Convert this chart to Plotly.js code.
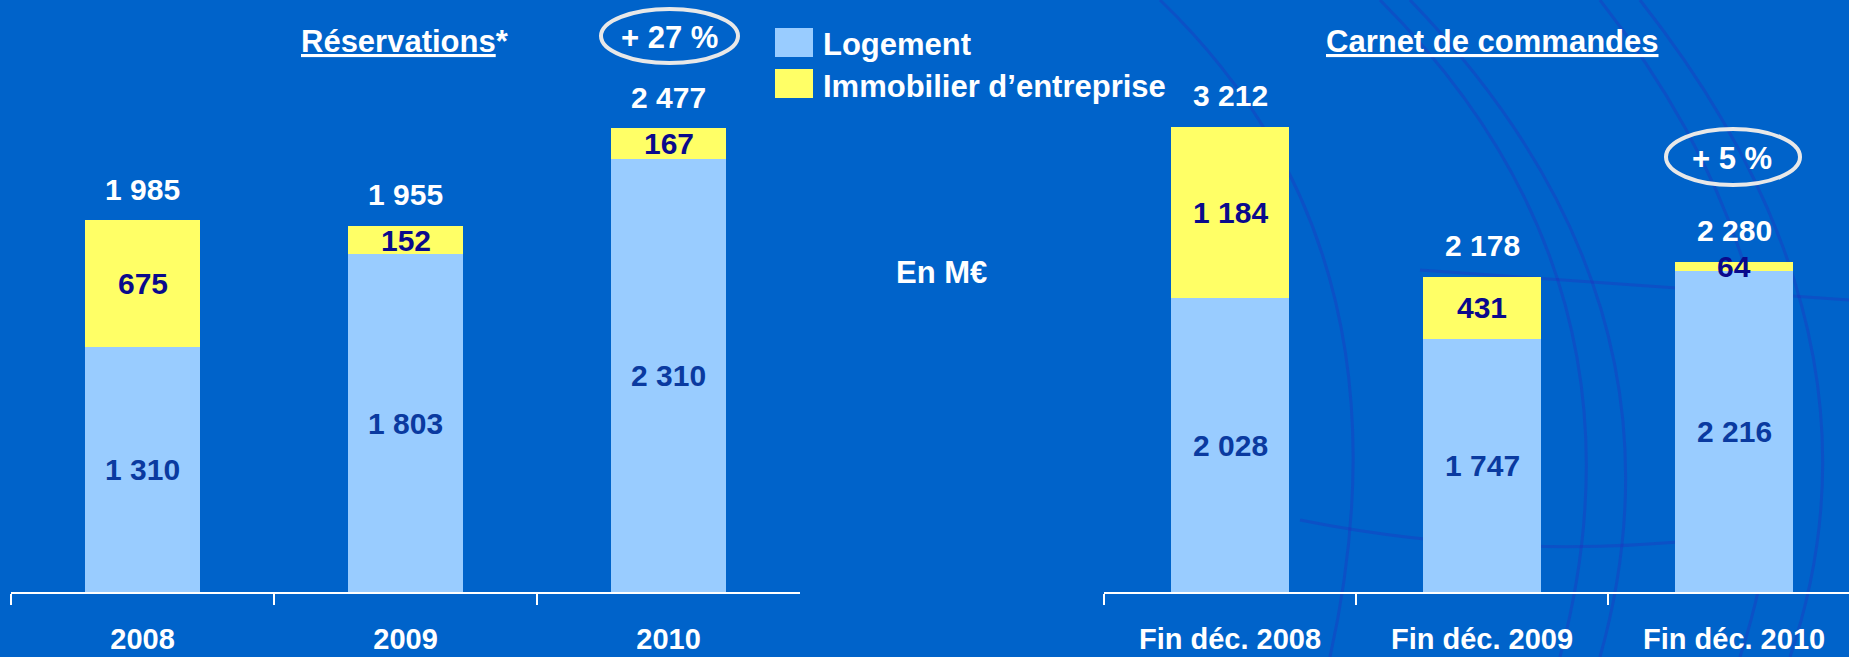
<!DOCTYPE html>
<html>
<head>
<meta charset="utf-8">
<script src="https://cdn.plot.ly/plotly-3.0.1.min.js"></script>
<style>
html,body{margin:0;padding:0;background:#0063CA;}
#chart{width:1849px;height:657px;}
</style>
</head>
<body>
<div id="chart"></div>
<script>
// ---- Data ----
const resCategories = ['2008', '2009', '2010'];
const resLogement = [1310, 1803, 2310];
const resImmobilier = [675, 152, 167];

const carnetCategories = ['Fin déc. 2008', 'Fin déc. 2009', 'Fin déc. 2010'];
const carnetLogement = [2028, 1747, 2216];
const carnetImmobilier = [1184, 431, 64];

const seriesNames = ['Logement', 'Immobilier d\u2019entreprise'];
const resTitle = 'Réservations';
const carnetTitle = 'Carnet de commandes';
const resGrowth = '+ 27 %';
const carnetGrowth = '+ 5 %';
const unitLabel = 'En M€';

// ---- Styles ----
const W = 1849, H = 657;
const FONT = "'Liberation Sans Narrow', 'Arial Narrow', 'Liberation Sans', Arial, sans-serif";
const BG = '#0063CA';
const BLUE = '#99CCFF';
const YELLOW = '#FFFF66';
const NAVY = '#0A0A8C';
const DARKBLUE = '#0A3AA0';
const LBL = 30;
const px = x => x / W;
const py = y => 1 - y / H;

function fmt(v) {
  return String(v).replace(/\B(?=(\d{3})+(?!\d))/g, ' ');
}

const traces = [
  {type: 'bar', x: resCategories, y: resLogement, name: seriesNames[0], xaxis: 'x', yaxis: 'y',
   marker: {color: BLUE, line: {width: 0}}, width: 0.44, hoverinfo: 'skip', showlegend: false},
  {type: 'bar', x: resCategories, y: resImmobilier, name: seriesNames[1], xaxis: 'x', yaxis: 'y',
   marker: {color: YELLOW, line: {width: 0}}, width: 0.44, hoverinfo: 'skip', showlegend: false},
  {type: 'bar', x: carnetCategories, y: carnetLogement, name: seriesNames[0], xaxis: 'x2', yaxis: 'y2',
   marker: {color: BLUE, line: {width: 0}}, width: 0.468, hoverinfo: 'skip', showlegend: false},
  {type: 'bar', x: carnetCategories, y: carnetImmobilier, name: seriesNames[1], xaxis: 'x2', yaxis: 'y2',
   marker: {color: YELLOW, line: {width: 0}}, width: 0.468, hoverinfo: 'skip', showlegend: false}
];

const annotations = [];
function addLabels(cats, low, high, xr, yr) {
  cats.forEach((c, i) => {
    const tot = low[i] + high[i];
    annotations.push({x: i, y: low[i] / 2, xref: xr, yref: yr, text: '<b>' + fmt(low[i]) + '</b>',
      showarrow: false, yanchor: 'middle', font: {family: FONT, size: LBL, color: DARKBLUE}});
    annotations.push({x: i, y: low[i] + high[i] / 2, xref: xr, yref: yr, text: '<b>' + fmt(high[i]) + '</b>',
      showarrow: false, yanchor: 'middle', font: {family: FONT, size: LBL, color: NAVY}});
    annotations.push({x: i, y: tot, xref: xr, yref: yr, yshift: 31, text: '<b>' + fmt(tot) + '</b>',
      showarrow: false, yanchor: 'middle', font: {family: FONT, size: LBL, color: '#FFFFFF'}});
  });
}
addLabels(resCategories, resLogement, resImmobilier, 'x', 'y');
addLabels(carnetCategories, carnetLogement, carnetImmobilier, 'x2', 'y2');

const txt = (x, y, text, size, anchor) => ({x: px(x), y: py(y), xref: 'paper', yref: 'paper',
  text: '<b>' + text + '</b>', showarrow: false, xanchor: anchor || 'center', yanchor: 'middle',
  font: {family: FONT, size: size, color: '#FFFFFF'}});

annotations.push(txt(405, 41, '<u>' + resTitle + '</u>*', 31));
annotations.push(txt(1492, 41, '<u>' + carnetTitle + '</u>', 31));
annotations.push(txt(669, 37, resGrowth, 31));
annotations.push(txt(1732, 158, carnetGrowth, 31));
annotations.push(txt(941, 272, unitLabel, 31));
annotations.push(txt(821, 44, seriesNames[0], 31, 'left'));
annotations.push(txt(821, 86, seriesNames[1], 31, 'left'));

const shapes = [];
// faint decorative arcs in the background (right side)
const arcs = [
  'M 1380,0 Q 1660,280 1560,657',
  'M 1410,0 Q 1700,300 1600,657',
  'M 1600,0 Q 1850,320 1740,657',
  'M 1640,0 Q 1900,330 1790,657',
  'M 1160,0 Q 1420,250 1330,657',
  'M 1420,270 L 1849,300',
  'M 1300,520 Q 1500,560 1700,540'
];
arcs.forEach(p => shapes.push({type: 'path', xref: 'paper', yref: 'paper', layer: 'below',
  path: p.replace(/(\d+(?:\.\d+)?),(\d+(?:\.\d+)?)/g, (m, a, b) => px(+a) + ',' + py(+b)),
  line: {color: 'rgba(40,40,190,0.3)', width: 3}}));
// ellipses
shapes.push({type: 'circle', xref: 'paper', yref: 'paper', x0: px(601), x1: px(738), y0: py(9), y1: py(63),
  line: {color: '#E8E8E8', width: 4}});
shapes.push({type: 'circle', xref: 'paper', yref: 'paper', x0: px(1666), x1: px(1800), y0: py(129), y1: py(185),
  line: {color: '#E8E8E8', width: 4}});
// legend swatches
shapes.push({type: 'rect', xref: 'paper', yref: 'paper', x0: px(775), x1: px(813), y0: py(28), y1: py(57),
  fillcolor: BLUE, line: {width: 0}});
shapes.push({type: 'rect', xref: 'paper', yref: 'paper', x0: px(775), x1: px(813), y0: py(69), y1: py(98),
  fillcolor: YELLOW, line: {width: 0}});

const xaxisBase = {type: 'category', tickson: 'boundaries', ticks: 'outside', ticklen: 11, tickwidth: 2,
  tickcolor: '#FFFFFF', showline: true, linecolor: '#FFFFFF', linewidth: 2, showgrid: false, zeroline: false,
  tickfont: {family: FONT, size: 29, color: '#FFFFFF', weight: 'bold'}, ticklabelstandoff: 20, fixedrange: true};

const layout = {
  width: W, height: H,
  margin: {l: 0, r: 0, t: 0, b: 0, pad: 0},
  paper_bgcolor: BG, plot_bgcolor: 'rgba(0,0,0,0)',
  barmode: 'stack', bargap: 0,
  showlegend: false,
  xaxis: Object.assign({}, xaxisBase, {domain: [px(11), px(800)], range: [-0.5, 2.5], anchor: 'y'}),
  yaxis: {domain: [1 - 592 / H, 1], range: [0, 592 / 0.1873], visible: false, fixedrange: true},
  xaxis2: Object.assign({}, xaxisBase, {domain: [px(1104), 1], range: [-0.5, 2.456], anchor: 'y2'}),
  yaxis2: {domain: [1 - 592 / H, 1], range: [0, 592 / 0.1448], visible: false, fixedrange: true},
  annotations: annotations,
  shapes: shapes
};

Plotly.newPlot('chart', traces, layout, {staticPlot: true, displayModeBar: false});
</script>
</body>
</html>
